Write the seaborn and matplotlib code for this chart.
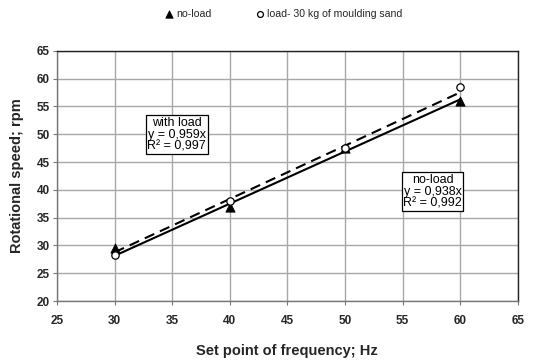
import numpy as np
import pandas as pd
import matplotlib
matplotlib.use("Agg")
import matplotlib.pyplot as plt
import seaborn as sns

freq = [30, 40, 50, 60]
noload = [29.5, 37.0, 47.5, 56.0]
withload = [28.3, 38.0, 47.5, 58.5]
slope_noload = 0.938
slope_withload = 0.959
fit_x = [30, 60]

sns.set_theme(style="white")
plt.rcParams['font.family'] = ['Liberation Sans', 'DejaVu Sans']

fig = plt.figure(figsize=(5.58, 3.61), dpi=100)
ax = fig.add_axes([0.102, 0.166, 0.826, 0.693])

fx = np.array(fit_x, dtype=float)
sns.lineplot(x=fx, y=slope_noload * fx, ax=ax, color='black', lw=1.5, zorder=3)
sns.lineplot(x=fx, y=slope_withload * fx, ax=ax, color='black', lw=1.5,
             linestyle=(0, (5, 3)), zorder=3)

sns.scatterplot(x=freq, y=noload, ax=ax, marker='^', color='black', s=45,
                edgecolor='black', zorder=4, label='no-load')
sns.scatterplot(x=freq, y=withload, ax=ax, marker='o', facecolor='white', s=28,
                edgecolor='black', linewidth=0.9, zorder=5,
                label='load- 30 kg of moulding sand')

ax.set_xlim(25, 65)
ax.set_ylim(20, 65)
ax.set_xticks(range(25, 66, 5))
ax.set_yticks(range(20, 66, 5))
ax.grid(True, color='#a8a8a8', lw=1.0)
ax.set_axisbelow(True)
for s in ax.spines.values():
    s.set_color('#222222')
    s.set_linewidth(1.0)
ax.spines['left'].set_color('#777777')
ax.spines['bottom'].set_color('#777777')
ax.tick_params(axis='both', length=3, width=0.8, color='#777777',
               labelsize=8.5, pad=2, left=True, bottom=True)
for lab in ax.get_xticklabels() + ax.get_yticklabels():
    lab.set_fontweight('bold')
ax.tick_params(axis='x', pad=7)

ax.set_xlabel('Set point of frequency; Hz', fontsize=10.5, fontweight='bold', labelpad=12)
ax.set_ylabel('Rotational speed; rpm', fontsize=10.5, fontweight='bold', labelpad=9)

leg = ax.legend(loc='lower center', bbox_to_anchor=(0.485, 1.09), ncol=2, frameon=False,
                fontsize=7.6, handletextpad=-0.3, columnspacing=3.6, markerscale=0.8)

ax.text(35.4, 49.9, 'with load\ny = 0,959x\nR² = 0,997', fontsize=9, ha='center', va='center',
        linespacing=1.0, color='black',
        bbox=dict(boxstyle='square,pad=0.12', facecolor='white', edgecolor='black', lw=0.9))
ax.text(57.6, 39.7, 'no-load\ny = 0,938x\nR² = 0,992', fontsize=9, ha='center', va='center',
        linespacing=1.0, color='black',
        bbox=dict(boxstyle='square,pad=0.12', facecolor='white', edgecolor='black', lw=0.9))

fig.savefig('out.png', dpi=100)
